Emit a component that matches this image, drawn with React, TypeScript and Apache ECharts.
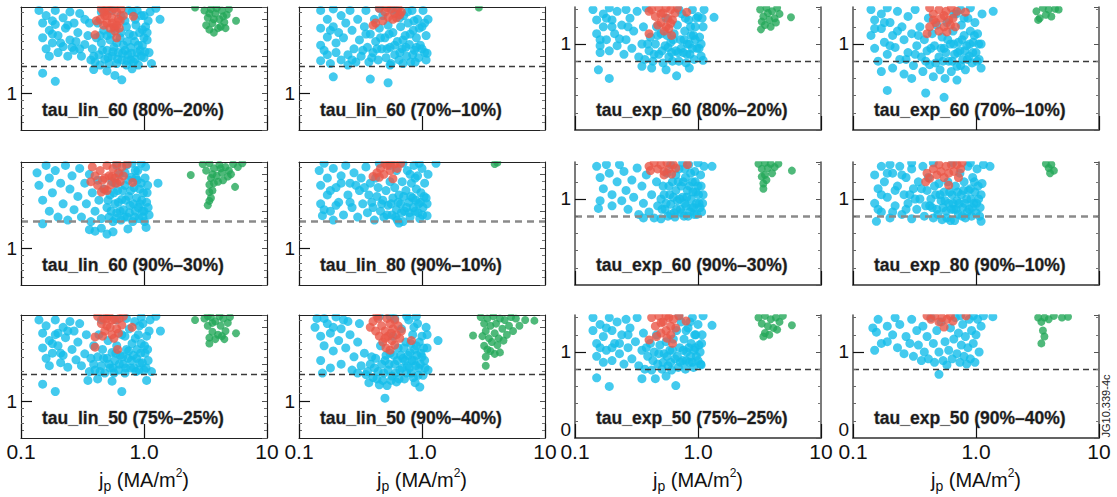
import React, { useEffect, useRef } from "react";
import * as echarts from "echarts";

// ---------- data (x = j_p in MA/m^2, y = normalised tau) ----------
const b1 = [[0.14,2.12],[0.15,1.95],[0.15,1.75],[0.16,1.6],[0.16,2.05],[0.17,1.85],[0.17,1.5],[0.18,1.68],[0.19,2.12],[0.19,1.93],[0.2,1.78],[0.2,1.55],[0.22,2.02],[0.22,1.63],[0.23,1.88],[0.24,1.5],[0.25,2.1],[0.25,1.72],[0.27,1.95],[0.27,1.58],[0.29,1.82],[0.3,2.08],[0.31,1.5],[0.33,1.66],[0.36,1.95],[0.37,1.45],[0.38,1.6],[0.4,1.42],[0.41,1.75],[0.43,1.52],[0.44,1.38],[0.45,1.68],[0.47,1.85],[0.48,1.46],[0.5,1.58],[0.52,1.4],[0.53,1.72],[0.55,1.5],[0.57,1.62],[0.58,1.88],[0.6,1.4],[0.62,1.55],[0.64,1.75],[0.66,1.45],[0.68,1.65],[0.7,1.98],[0.72,1.38],[0.74,1.52],[0.76,1.8],[0.78,1.62],[0.8,2.1],[0.82,1.42],[0.84,1.7],[0.86,1.92],[0.88,1.55],[0.9,1.38],[0.92,1.82],[0.95,2.05],[0.97,1.65],[1.0,1.48],[1.03,1.9],[1.06,1.72],[1.1,1.55],[1.12,2.1],[0.75,2.12],[0.65,2.05],[0.55,2.12],[0.45,2.1],[1.15,1.4],[0.42,1.95],[0.5,1.78],[0.6,1.68],[0.7,1.58],[0.78,1.45],[0.9,1.65],[1.0,1.75],[0.85,2.0],[0.95,1.5],[1.08,1.98],[0.35,1.78],[0.33,2.0],[0.15,1.27],[0.19,1.16],[0.39,1.32],[0.5,1.3],[0.58,1.24],[0.66,1.18],[0.8,1.33],[1.35,2.0],[1.25,2.15],[0.39,1.5],[0.46,1.58],[0.51,1.48],[0.56,1.56],[0.61,1.46],[0.67,1.54],[0.73,1.44],[0.79,1.54],[0.85,1.46],[0.93,1.58],[1.02,1.56],[0.44,1.78],[0.54,1.8],[0.65,1.82],[0.73,1.7],[0.82,1.78],[0.97,1.86],[1.06,1.82],[0.88,2.12],[1.0,2.05],[0.72,1.9],[0.18,1.8],[0.21,1.68],[0.24,1.92],[0.26,1.62],[0.18,1.98],[0.3,1.6],[0.28,1.7]];
const r1 = [[0.45,2.15],[0.48,2.05],[0.5,1.95],[0.52,2.12],[0.55,2.02],[0.57,1.9],[0.6,2.1],[0.62,2.0],[0.65,2.14],[0.58,1.84],[0.53,1.88],[0.47,1.92],[0.44,2.0],[0.68,2.05],[0.63,1.88],[0.4,1.79],[0.6,1.75],[0.82,2.04],[0.5,2.16],[0.41,1.98],[0.5,2.05],[0.55,1.95],[0.6,1.92],[0.64,1.98],[0.57,2.15],[0.47,2.1]];
const g1 = [[3.1,2.12],[3.3,2.02],[3.5,2.14],[3.6,1.95],[3.8,2.08],[4.0,1.88],[4.1,2.0],[4.3,2.12],[4.5,1.96],[4.7,2.06],[4.9,2.14],[3.4,1.86],[3.7,1.82],[4.2,1.9],[5.6,1.98],[2.6,2.16],[3.2,1.92],[4.6,1.88],[3.4,2.08],[3.9,2.15],[4.4,2.04],[3.7,2.0]];

const b2 = [[0.15,2.12],[0.15,1.88],[0.15,1.65],[0.15,1.44],[0.17,2.0],[0.17,1.76],[0.17,1.52],[0.18,1.4],[0.19,2.14],[0.19,1.9],[0.2,1.55],[0.21,1.82],[0.22,2.05],[0.22,1.45],[0.24,1.95],[0.25,1.52],[0.26,2.12],[0.27,1.85],[0.28,1.6],[0.29,1.42],[0.3,2.0],[0.31,1.72],[0.32,1.5],[0.34,1.9],[0.35,2.12],[0.36,1.62],[0.37,1.42],[0.38,1.8],[0.4,1.55],[0.41,2.0],[0.42,1.7],[0.44,1.45],[0.45,1.88],[0.47,1.6],[0.48,2.05],[0.5,1.75],[0.51,1.48],[0.53,1.92],[0.55,1.62],[0.56,1.4],[0.58,1.82],[0.6,1.52],[0.62,2.12],[0.63,1.7],[0.65,1.45],[0.67,1.9],[0.69,1.6],[0.71,2.05],[0.73,1.78],[0.75,1.5],[0.77,1.95],[0.79,1.66],[0.81,1.42],[0.83,2.12],[0.85,1.85],[0.87,1.58],[0.9,1.75],[0.92,2.0],[0.94,1.48],[0.97,1.65],[1.0,1.9],[1.02,2.12],[1.05,1.55],[1.08,1.78],[1.12,2.0],[1.1,1.54],[0.88,1.42],[0.7,1.4],[0.58,2.12],[0.45,2.15],[0.35,1.8],[0.19,1.22],[0.38,1.19],[0.53,1.14],[0.55,1.38],[0.25,1.38],[0.16,1.58],[0.18,1.85],[0.2,1.68],[0.23,1.75],[0.27,1.45],[0.33,1.58],[0.39,1.48],[0.43,1.6],[0.46,1.75],[0.52,1.6],[0.54,1.8],[0.6,1.65],[0.66,1.55],[0.7,1.72],[0.74,1.62],[0.8,1.8],[0.84,1.52],[0.9,1.62],[0.95,1.88],[1.0,1.6],[1.05,1.95],[1.08,1.45],[0.86,1.98],[0.76,2.1],[0.66,2.02]];
const r2 = [[0.45,2.15],[0.5,2.1],[0.53,2.03],[0.56,2.14],[0.6,2.08],[0.64,2.15],[0.68,2.1],[0.48,1.98],[0.42,1.95],[0.4,1.92],[0.58,2.0],[0.62,2.02],[0.52,2.16],[0.66,2.06]];
const g2 = [[2.9,2.16]];

const b3 = [[0.14,1.4],[0.15,1.28],[0.15,1.12],[0.16,0.98],[0.16,0.9],[0.17,1.35],[0.17,1.2],[0.18,1.05],[0.19,1.42],[0.19,0.92],[0.2,1.28],[0.21,1.12],[0.22,1.38],[0.22,0.98],[0.24,1.22],[0.25,0.88],[0.26,1.4],[0.26,1.05],[0.28,1.3],[0.29,0.95],[0.3,1.15],[0.32,1.38],[0.33,0.85],[0.35,1.0],[0.36,1.2],[0.37,0.82],[0.38,1.42],[0.4,0.92],[0.41,1.08],[0.43,0.8],[0.45,1.0],[0.46,1.2],[0.48,0.88],[0.5,1.12],[0.52,0.78],[0.54,0.98],[0.56,1.1],[0.58,0.85],[0.6,1.02],[0.62,0.8],[0.64,1.12],[0.66,0.92],[0.68,1.22],[0.7,0.8],[0.72,1.05],[0.74,1.35],[0.76,0.9],[0.78,1.15],[0.8,0.78],[0.82,1.0],[0.84,1.28],[0.86,0.88],[0.88,1.1],[0.9,1.4],[0.93,0.82],[0.95,1.2],[0.98,0.95],[1.0,1.32],[1.03,1.08],[1.06,0.86],[1.1,1.2],[1.12,1.4],[0.7,1.4],[0.55,1.3],[0.95,1.05],[0.155,0.7],[0.19,0.6],[0.67,0.63],[0.35,0.74],[0.42,0.72],[0.55,0.7],[1.1,0.81],[1.35,1.31],[0.85,0.72],[0.16,1.05],[0.18,1.3],[0.2,1.2],[0.23,1.06],[0.27,1.2],[0.39,1.0],[0.44,0.88],[0.47,1.1],[0.51,0.92],[0.57,0.96],[0.61,0.9],[0.63,1.05],[0.69,0.9],[0.73,0.95],[0.77,1.05],[0.81,0.88],[0.85,1.0],[0.9,0.95],[0.92,1.1],[0.97,1.3],[1.02,0.95],[1.06,1.0],[0.79,1.3],[0.87,1.2],[1.08,1.3]];
const r3 = [[0.42,1.4],[0.45,1.32],[0.48,1.42],[0.5,1.25],[0.52,1.36],[0.55,1.2],[0.57,1.3],[0.6,1.4],[0.62,1.28],[0.65,1.36],[0.47,1.22],[0.58,1.18],[0.4,1.38],[0.4,1.12],[0.61,1.1],[0.81,1.37],[0.68,1.42],[0.53,1.15],[0.5,1.35],[0.55,1.42],[0.6,1.24]];
const g3 = [[3.2,1.4],[3.4,1.32],[3.6,1.42],[3.8,1.28],[4.0,1.38],[4.2,1.3],[4.4,1.42],[4.6,1.35],[3.5,1.22],[3.9,1.2],[3.25,1.17],[5.7,1.31],[4.3,1.25],[3.3,1.26],[3.7,1.36]];

const b4 = [[0.14,1.4],[0.14,1.1],[0.15,1.28],[0.15,0.95],[0.16,0.8],[0.17,1.35],[0.17,1.18],[0.17,0.68],[0.18,1.02],[0.19,1.42],[0.19,0.88],[0.2,1.25],[0.21,1.1],[0.21,0.72],[0.22,0.96],[0.23,1.38],[0.24,0.82],[0.25,1.2],[0.26,1.05],[0.26,0.65],[0.28,1.32],[0.28,0.9],[0.3,1.12],[0.31,0.75],[0.32,1.4],[0.33,0.98],[0.35,1.2],[0.36,0.85],[0.37,0.68],[0.38,1.05],[0.4,0.92],[0.41,1.3],[0.42,0.76],[0.44,1.12],[0.45,0.62],[0.46,0.98],[0.48,1.22],[0.5,0.85],[0.51,0.7],[0.53,1.08],[0.55,0.95],[0.56,0.6],[0.58,1.25],[0.6,0.8],[0.62,1.0],[0.63,0.68],[0.65,1.15],[0.67,0.88],[0.69,1.35],[0.7,0.74],[0.72,1.02],[0.74,0.92],[0.76,1.22],[0.78,0.82],[0.8,1.1],[0.82,0.7],[0.84,0.98],[0.86,1.3],[0.88,0.86],[0.9,1.15],[0.93,0.78],[0.95,1.02],[0.98,1.25],[1.0,0.9],[1.03,1.12],[1.06,0.82],[1.1,1.0],[1.12,1.35],[0.75,1.4],[0.9,1.42],[1.1,0.72],[0.19,0.46],[0.39,0.43],[0.55,0.38],[1.38,1.38],[0.3,0.6],[0.7,0.58],[0.15,1.18],[0.18,1.25],[0.2,0.98],[0.23,1.15],[0.27,0.82],[0.32,0.88],[0.34,1.1],[0.39,0.8],[0.43,0.95],[0.47,0.78],[0.52,0.95],[0.54,0.8],[0.57,0.9],[0.59,1.05],[0.64,0.8],[0.66,1.0],[0.71,0.9],[0.75,0.75],[0.77,1.05],[0.81,0.92],[0.85,0.82],[0.89,1.0],[0.94,0.9],[0.97,1.1],[1.02,0.8],[1.05,1.0],[0.66,1.35],[0.8,1.3]];
const r4 = [[0.42,1.42],[0.45,1.35],[0.47,1.25],[0.5,1.4],[0.52,1.3],[0.55,1.2],[0.57,1.38],[0.6,1.28],[0.63,1.42],[0.65,1.3],[0.68,1.2],[0.5,1.15],[0.45,1.28],[0.42,1.2],[0.4,1.12],[0.58,1.14],[0.82,1.37],[0.7,1.38],[0.55,1.33],[0.62,1.22]];
const g4 = [[3.1,1.38],[3.3,1.3],[3.5,1.42],[3.7,1.34],[3.9,1.4],[4.1,1.32],[4.4,1.41],[4.7,1.4],[3.2,1.28]];

const b5 = [[0.135,2.02],[0.14,1.85],[0.15,1.65],[0.15,1.33],[0.16,2.12],[0.17,1.95],[0.17,1.5],[0.18,1.75],[0.19,2.05],[0.2,1.42],[0.21,1.88],[0.22,1.6],[0.23,2.12],[0.24,1.38],[0.25,1.8],[0.26,1.98],[0.27,1.52],[0.29,1.7],[0.3,2.08],[0.31,1.42],[0.33,1.88],[0.34,1.6],[0.36,2.0],[0.37,1.36],[0.38,1.75],[0.4,1.5],[0.42,1.92],[0.43,1.65],[0.45,1.4],[0.47,1.8],[0.5,1.55],[0.52,1.42],[0.53,1.72],[0.55,1.9],[0.56,1.36],[0.58,1.6],[0.6,1.48],[0.61,1.78],[0.63,2.0],[0.65,1.38],[0.66,1.66],[0.68,1.52],[0.7,1.85],[0.72,2.12],[0.73,1.42],[0.75,1.7],[0.77,1.58],[0.79,1.96],[0.81,1.36],[0.83,1.82],[0.85,1.5],[0.87,1.68],[0.89,2.05],[0.91,1.4],[0.93,1.6],[0.95,1.88],[0.97,1.5],[0.99,1.75],[1.01,1.36],[1.03,2.1],[1.05,1.62],[1.07,1.85],[1.1,1.45],[0.6,2.12],[0.8,2.15],[0.95,2.15],[0.88,1.92],[0.75,1.92],[0.58,1.88],[0.36,1.25],[0.4,1.23],[0.5,1.19],[0.56,1.22],[0.74,1.26],[1.04,1.28],[1.3,1.88],[0.45,1.27],[0.51,1.65],[0.54,1.5],[0.57,1.75],[0.59,1.4],[0.62,1.62],[0.64,1.5],[0.67,1.78],[0.69,1.42],[0.71,1.65],[0.76,1.48],[0.78,1.78],[0.82,1.6],[0.84,1.42],[0.86,1.95],[0.9,1.55],[0.92,1.8],[0.96,1.65],[1.0,1.5],[1.02,1.95],[1.06,1.75],[0.98,1.42],[0.85,2.05],[0.7,2.02],[1.08,1.55]];
const r5 = [[0.38,2.1],[0.4,1.98],[0.42,1.85],[0.44,2.05],[0.46,1.92],[0.48,1.8],[0.5,2.12],[0.52,1.98],[0.54,1.86],[0.56,2.08],[0.58,1.95],[0.6,2.15],[0.62,2.02],[0.64,1.9],[0.66,2.1],[0.45,1.76],[0.5,1.78],[0.37,1.9],[0.81,1.89],[0.73,2.14],[0.68,1.98],[0.48,1.95],[0.55,1.97],[0.6,1.88]];
const g5 = [[3.0,2.14],[3.2,2.05],[3.4,2.15],[3.5,1.95],[3.7,2.08],[3.9,1.98],[4.1,2.13],[4.3,2.02],[4.6,2.1],[4.9,2.05],[5.3,2.14],[5.8,2.1],[3.4,1.86],[3.7,1.88],[4.0,1.9],[4.4,1.92],[3.4,1.76],[3.6,1.78],[3.5,1.68],[3.3,1.58],[3.4,1.64],[2.4,1.99],[5.5,1.83],[6.3,2.15],[4.8,1.97],[5.1,2.0],[3.6,2.0],[4.2,2.08]];

const b6 = [[0.146,2.05],[0.15,1.85],[0.15,1.6],[0.155,1.44],[0.16,2.15],[0.17,1.95],[0.17,1.72],[0.18,1.5],[0.19,2.08],[0.19,1.38],[0.2,1.82],[0.21,1.62],[0.22,1.98],[0.23,1.45],[0.24,2.12],[0.25,1.72],[0.26,1.88],[0.27,1.55],[0.28,2.02],[0.3,1.42],[0.31,1.78],[0.32,1.95],[0.33,1.6],[0.35,2.1],[0.36,1.48],[0.37,1.72],[0.38,1.88],[0.4,1.55],[0.41,1.38],[0.43,1.7],[0.44,1.82],[0.46,1.5],[0.48,1.65],[0.49,1.42],[0.51,1.78],[0.53,1.58],[0.55,1.9],[0.57,1.45],[0.58,1.68],[0.6,1.82],[0.62,1.52],[0.63,1.38],[0.65,1.72],[0.67,1.6],[0.69,1.9],[0.7,1.36],[0.72,1.5],[0.74,1.78],[0.76,2.05],[0.78,1.62],[0.8,1.42],[0.82,1.88],[0.84,1.68],[0.86,2.12],[0.88,1.5],[0.9,1.8],[0.92,1.98],[0.94,1.6],[0.96,1.4],[0.98,1.75],[1.0,2.08],[1.02,1.55],[1.05,1.88],[1.08,1.68],[1.1,1.44],[1.12,2.0],[0.7,2.15],[0.95,2.15],[0.55,2.12],[0.45,2.15],[0.62,2.05],[1.3,2.15],[0.65,1.34],[0.16,1.52],[0.18,1.78],[0.2,1.58],[0.22,1.88],[0.26,1.62],[0.29,1.85],[0.34,1.82],[0.39,1.62],[0.42,1.95],[0.47,1.6],[0.52,1.45],[0.56,1.6],[0.61,1.42],[0.64,1.62],[0.68,1.48],[0.71,1.7],[0.75,1.55],[0.79,1.48],[0.81,1.7],[0.85,1.55],[0.89,1.65],[0.93,1.48],[0.97,1.62],[1.01,1.45],[1.04,1.7],[1.1,1.6],[0.88,1.95],[0.8,2.0]];
const r6 = [[0.4,1.97],[0.43,2.02],[0.46,2.08],[0.49,2.0],[0.52,2.12],[0.55,2.05],[0.58,1.94],[0.6,2.14],[0.63,2.08],[0.67,2.15],[0.5,2.15],[0.56,2.16],[0.45,1.96]];
const g6 = [[3.9,2.14],[4.1,2.16]];

const b7 = [[0.15,1.38],[0.155,0.89],[0.16,1.25],[0.16,0.98],[0.17,1.12],[0.18,1.4],[0.19,1.3],[0.2,1.05],[0.2,0.92],[0.22,1.2],[0.23,1.4],[0.24,0.98],[0.25,1.32],[0.26,1.1],[0.27,0.88],[0.29,1.22],[0.3,1.02],[0.32,1.36],[0.33,0.82],[0.35,1.15],[0.36,0.95],[0.38,1.28],[0.4,0.85],[0.42,1.05],[0.44,0.78],[0.46,1.2],[0.47,0.92],[0.5,0.77],[0.5,1.0],[0.52,1.15],[0.54,0.88],[0.56,1.3],[0.57,0.8],[0.59,1.05],[0.6,0.94],[0.62,1.2],[0.64,0.84],[0.65,0.79],[0.66,1.1],[0.68,0.98],[0.7,1.35],[0.72,0.88],[0.73,1.15],[0.75,1.02],[0.77,0.8],[0.79,1.25],[0.8,0.92],[0.82,1.1],[0.84,1.4],[0.86,0.85],[0.88,1.0],[0.9,1.2],[0.92,0.9],[0.94,1.32],[0.96,1.08],[0.98,0.82],[1.0,1.15],[1.02,0.95],[1.05,1.28],[1.07,0.85],[1.1,1.05],[1.12,1.38],[0.6,1.4],[0.75,1.42],[1.0,1.42],[1.3,1.38],[0.36,0.78],[0.51,0.88],[0.53,1.05],[0.55,0.95],[0.58,1.15],[0.6,0.82],[0.63,1.02],[0.67,0.88],[0.69,1.2],[0.71,1.0],[0.74,0.84],[0.76,1.2],[0.78,0.95],[0.81,1.02],[0.83,0.8],[0.85,1.15],[0.87,1.3],[0.89,0.9],[0.91,1.08],[0.93,0.82],[0.95,1.2],[0.97,0.95],[1.01,1.05],[1.04,0.9],[1.06,1.15],[1.09,0.95],[0.66,1.28],[0.78,1.35]];
const r7 = [[0.4,1.38],[0.41,1.33],[0.44,1.42],[0.47,1.35],[0.5,1.4],[0.53,1.32],[0.56,1.42],[0.58,1.35],[0.61,1.29],[0.63,1.4],[0.66,1.36],[0.82,1.4],[0.53,1.28]];
const g7 = [[3.1,1.41],[3.3,1.35],[3.5,1.42],[3.7,1.36],[3.9,1.41],[4.2,1.37],[4.5,1.41],[3.3,1.26],[3.5,1.28],[3.4,1.18],[3.4,1.12],[3.6,1.22],[5.8,1.33],[4.0,1.3]];

const b8 = [[0.15,1.28],[0.15,0.95],[0.155,0.74],[0.16,1.12],[0.17,1.38],[0.17,0.85],[0.18,1.2],[0.19,1.02],[0.2,1.4],[0.2,0.78],[0.21,1.3],[0.22,0.92],[0.23,1.15],[0.24,1.38],[0.25,0.82],[0.26,1.05],[0.27,1.25],[0.28,0.95],[0.3,0.77],[0.3,1.35],[0.31,1.12],[0.33,0.88],[0.34,1.2],[0.35,1.0],[0.37,1.38],[0.38,0.8],[0.4,1.1],[0.42,0.92],[0.43,1.0],[0.45,0.78],[0.47,1.05],[0.48,0.88],[0.5,1.18],[0.52,0.98],[0.53,0.76],[0.55,1.08],[0.57,0.86],[0.59,1.2],[0.6,0.95],[0.62,0.75],[0.64,1.05],[0.66,0.88],[0.67,0.75],[0.68,1.15],[0.7,0.98],[0.72,0.82],[0.74,1.3],[0.76,1.05],[0.78,0.9],[0.8,1.2],[0.82,0.78],[0.84,1.0],[0.86,1.38],[0.88,0.88],[0.9,1.12],[0.92,0.8],[0.94,1.25],[0.96,0.95],[0.98,1.08],[1.0,0.84],[1.02,1.35],[1.05,1.0],[1.08,0.9],[1.1,0.74],[1.12,1.18],[1.15,1.4],[0.3,1.42],[0.45,1.42],[0.9,1.42],[0.65,1.42],[1.3,1.38],[0.16,0.88],[0.17,1.05],[0.19,1.3],[0.21,0.85],[0.22,1.1],[0.25,1.28],[0.27,0.88],[0.29,1.05],[0.32,1.0],[0.36,1.12],[0.39,0.92],[0.41,1.25],[0.44,0.9],[0.46,1.15],[0.49,0.82],[0.51,1.05],[0.54,0.9],[0.56,0.98],[0.58,0.78],[0.61,1.08],[0.63,0.88],[0.65,0.95],[0.69,0.88],[0.71,1.08],[0.73,0.95],[0.77,0.8],[0.79,1.1],[0.81,0.95],[0.85,0.85],[0.87,1.1],[0.91,1.0],[0.93,0.9],[0.97,1.2],[1.01,0.95],[1.04,1.15],[1.07,0.8],[1.1,1.05]];
const r8 = [[0.39,1.2],[0.4,1.3],[0.42,1.24],[0.45,1.35],[0.48,1.28],[0.5,1.4],[0.52,1.32],[0.55,1.25],[0.57,1.38],[0.6,1.16],[0.6,1.3],[0.63,1.4],[0.66,1.32],[0.7,1.4],[0.72,1.25],[0.75,1.35],[0.77,1.42]];
const g8 = [[3.7,1.41],[3.9,1.36],[4.1,1.4],[4.3,1.33],[4.0,1.3]];

const b9 = [[0.14,2.1],[0.15,1.92],[0.15,1.72],[0.16,1.58],[0.16,2.02],[0.17,1.82],[0.17,1.48],[0.18,1.65],[0.19,2.1],[0.19,1.9],[0.2,1.75],[0.21,1.52],[0.22,2.0],[0.22,1.62],[0.23,1.86],[0.24,1.46],[0.25,2.08],[0.26,1.7],[0.27,1.95],[0.28,1.56],[0.29,1.8],[0.3,2.05],[0.31,1.48],[0.33,1.64],[0.34,1.9],[0.36,1.4],[0.37,1.58],[0.39,1.75],[0.4,1.42],[0.42,1.6],[0.43,1.9],[0.45,1.48],[0.46,1.7],[0.48,1.38],[0.5,1.58],[0.51,1.82],[0.53,1.45],[0.55,1.66],[0.57,1.38],[0.58,1.55],[0.6,1.75],[0.62,1.42],[0.64,1.62],[0.66,1.9],[0.68,1.5],[0.7,1.38],[0.72,1.7],[0.74,1.58],[0.76,1.98],[0.78,1.45],[0.8,1.78],[0.82,1.62],[0.84,2.08],[0.86,1.4],[0.88,1.7],[0.9,1.9],[0.92,1.52],[0.95,1.78],[0.98,2.05],[1.0,1.42],[1.02,1.65],[1.05,1.88],[1.08,1.55],[1.12,2.1],[1.15,1.4],[0.72,2.12],[0.6,2.1],[0.95,2.14],[0.45,2.1],[0.15,1.23],[0.19,1.13],[0.66,1.13],[0.35,1.28],[0.42,1.3],[0.55,1.27],[1.05,1.28],[1.36,1.95],[1.25,2.15],[0.39,1.5],[0.44,1.4],[0.47,1.58],[0.52,1.5],[0.56,1.45],[0.59,1.65],[0.63,1.5],[0.67,1.6],[0.71,1.45],[0.75,1.68],[0.79,1.55],[0.83,1.45],[0.87,1.58],[0.91,1.42],[0.94,1.65],[0.97,1.52],[1.01,1.75],[1.04,1.45],[1.07,1.7],[1.1,1.95],[0.85,1.85],[0.7,1.88],[0.92,2.02],[0.18,1.78],[0.21,1.65],[0.24,1.95],[0.2,1.92]];
const r9 = [[0.42,2.15],[0.45,2.05],[0.48,1.95],[0.5,2.12],[0.53,2.0],[0.55,1.9],[0.58,2.1],[0.6,1.98],[0.63,2.12],[0.66,2.03],[0.68,2.15],[0.46,1.88],[0.57,1.85],[0.4,1.87],[0.4,1.73],[0.61,1.7],[0.8,2.0],[0.52,2.16],[0.5,2.02],[0.55,2.1],[0.62,1.92],[0.47,2.12]];
const g9 = [[3.1,2.12],[3.3,2.02],[3.5,2.14],[3.6,1.94],[3.8,2.08],[4.0,1.9],[4.2,2.02],[4.4,2.12],[4.6,1.95],[4.8,2.06],[5.0,2.14],[3.4,1.86],[3.8,1.84],[4.3,1.88],[3.4,1.78],[5.6,1.92],[2.6,2.1],[4.5,1.84],[3.6,2.06],[4.1,2.15],[3.3,2.15]];

const b10 = [[0.135,2.0],[0.14,2.12],[0.15,1.88],[0.15,1.55],[0.155,1.38],[0.16,1.75],[0.17,2.05],[0.18,1.92],[0.18,1.45],[0.19,1.68],[0.2,2.14],[0.21,1.82],[0.22,1.98],[0.22,1.5],[0.24,1.72],[0.25,2.08],[0.26,1.9],[0.27,1.42],[0.28,1.6],[0.3,1.8],[0.31,2.05],[0.32,1.48],[0.34,1.65],[0.35,1.36],[0.37,1.25],[0.38,1.5],[0.4,1.32],[0.42,1.58],[0.44,1.4],[0.46,1.75],[0.48,1.28],[0.5,1.55],[0.52,1.21],[0.53,1.42],[0.55,1.65],[0.57,1.34],[0.58,1.88],[0.6,1.5],[0.62,1.26],[0.64,1.72],[0.66,1.42],[0.68,1.98],[0.7,1.58],[0.72,1.3],[0.74,1.8],[0.76,1.48],[0.78,2.1],[0.8,1.66],[0.82,1.38],[0.84,1.9],[0.86,1.55],[0.88,1.25],[0.9,1.75],[0.92,2.05],[0.94,1.45],[0.96,1.19],[0.98,1.65],[1.0,1.88],[1.02,1.35],[1.05,1.55],[1.08,2.0],[1.1,1.72],[1.12,1.42],[0.9,2.15],[0.6,2.12],[0.55,2.15],[0.45,2.15],[0.75,2.15],[0.5,1.04],[1.35,1.82],[0.3,1.38],[0.45,1.22],[0.36,1.4],[0.39,1.6],[0.41,1.45],[0.43,1.3],[0.47,1.5],[0.49,1.38],[0.51,1.62],[0.54,1.5],[0.56,1.28],[0.59,1.62],[0.61,1.38],[0.63,1.55],[0.65,1.3],[0.67,1.62],[0.69,1.45],[0.71,1.72],[0.73,1.55],[0.75,1.38],[0.77,1.62],[0.79,1.45],[0.81,1.78],[0.83,1.55],[0.85,1.32],[0.87,1.7],[0.89,1.48],[0.91,1.62],[0.93,1.35],[0.95,1.8],[0.97,1.5],[1.0,1.6],[1.03,1.72],[1.06,1.45],[1.1,1.9],[0.86,2.0],[0.16,2.12],[0.19,2.0],[0.23,2.1]];
const r10 = [[0.38,2.0],[0.4,2.08],[0.42,1.95],[0.44,2.12],[0.45,1.88],[0.47,2.02],[0.48,1.8],[0.5,1.95],[0.51,1.72],[0.53,1.88],[0.55,2.05],[0.55,1.69],[0.57,1.82],[0.58,1.98],[0.6,1.76],[0.62,1.9],[0.64,2.02],[0.66,1.85],[0.68,1.95],[0.52,2.12],[0.6,2.1],[0.82,1.82],[0.43,2.16],[0.5,1.85],[0.56,1.92]];
const g10 = [[3.0,2.14],[3.2,2.05],[3.3,1.95],[3.4,2.12],[3.5,1.85],[3.6,2.02],[3.8,2.15],[3.9,1.92],[4.0,2.05],[4.2,1.85],[4.3,2.12],[4.5,1.98],[4.7,2.1],[4.9,1.9],[5.1,2.02],[5.3,2.14],[5.5,1.95],[3.2,1.75],[3.4,1.7],[3.3,1.6],[3.3,1.48],[3.6,1.68],[4.3,1.66],[3.9,1.64],[2.6,1.89],[8.2,2.09],[6.9,2.1],[6.2,2.02],[5.8,2.12],[3.1,1.88],[4.6,1.82],[3.7,1.8],[4.1,1.76]];

const b11 = [[0.14,1.4],[0.14,1.25],[0.15,1.1],[0.15,0.95],[0.16,1.32],[0.17,1.18],[0.17,0.88],[0.18,1.02],[0.19,1.4],[0.2,1.25],[0.2,0.9],[0.21,1.1],[0.22,1.35],[0.23,0.98],[0.24,1.2],[0.25,0.86],[0.26,1.38],[0.27,1.05],[0.28,1.28],[0.29,0.92],[0.31,1.12],[0.32,1.4],[0.33,0.84],[0.35,1.02],[0.36,1.22],[0.37,0.8],[0.39,0.95],[0.41,1.1],[0.42,0.79],[0.44,1.0],[0.46,1.2],[0.47,0.86],[0.49,1.08],[0.51,0.8],[0.53,0.98],[0.55,1.12],[0.57,0.84],[0.59,1.02],[0.61,0.79],[0.63,1.15],[0.65,0.92],[0.67,1.25],[0.69,0.82],[0.71,1.05],[0.73,1.35],[0.75,0.9],[0.77,1.15],[0.79,0.8],[0.81,1.0],[0.83,1.28],[0.85,0.88],[0.88,1.1],[0.9,1.4],[0.92,0.82],[0.94,1.2],[0.97,0.95],[1.0,1.32],[1.02,1.08],[1.05,0.86],[1.08,1.2],[1.1,1.42],[0.95,1.05],[0.7,1.42],[0.15,0.7],[0.19,0.6],[0.66,0.61],[0.35,0.69],[0.45,0.69],[1.06,0.85],[1.3,1.31],[0.55,0.72],[0.16,1.05],[0.18,1.28],[0.2,1.05],[0.23,1.1],[0.27,1.2],[0.38,1.05],[0.43,0.9],[0.48,0.98],[0.52,0.88],[0.56,0.95],[0.6,0.88],[0.62,1.02],[0.68,0.95],[0.72,0.88],[0.76,1.02],[0.8,0.9],[0.84,1.05],[0.87,0.95],[0.9,0.88],[0.93,1.02],[0.96,1.2],[1.0,0.9],[1.04,1.0],[1.07,1.1],[0.8,1.25],[0.86,1.35]];
const r11 = [[0.42,1.4],[0.45,1.3],[0.48,1.42],[0.5,1.22],[0.52,1.35],[0.55,1.25],[0.58,1.4],[0.6,1.3],[0.63,1.38],[0.66,1.28],[0.46,1.18],[0.56,1.16],[0.4,1.14],[0.62,1.1],[0.8,1.36],[0.7,1.42],[0.5,1.34],[0.55,1.42],[0.6,1.2]];
const g11 = [[3.1,1.4],[3.3,1.33],[3.5,1.42],[3.7,1.3],[3.9,1.38],[4.1,1.28],[4.3,1.4],[4.6,1.35],[4.9,1.42],[3.5,1.22],[3.8,1.2],[3.4,1.18],[5.8,1.31],[4.4,1.26]];

const b12 = [[0.145,1.28],[0.15,1.02],[0.155,1.23],[0.16,1.38],[0.17,1.1],[0.19,1.12],[0.19,1.3],[0.21,1.2],[0.22,1.4],[0.23,1.05],[0.24,1.32],[0.26,0.98],[0.27,1.18],[0.29,1.1],[0.3,1.38],[0.31,0.95],[0.33,1.25],[0.34,1.08],[0.36,0.9],[0.37,1.3],[0.38,1.0],[0.4,1.18],[0.41,0.92],[0.43,1.4],[0.45,1.1],[0.46,0.88],[0.48,1.25],[0.5,0.74],[0.5,1.0],[0.52,1.35],[0.54,0.9],[0.56,1.12],[0.58,0.85],[0.6,1.02],[0.62,1.28],[0.64,0.92],[0.66,1.15],[0.68,1.4],[0.7,0.98],[0.72,1.22],[0.74,0.88],[0.76,1.08],[0.78,1.32],[0.8,0.95],[0.82,1.18],[0.84,0.86],[0.86,1.05],[0.88,1.38],[0.9,0.92],[0.92,1.25],[0.95,1.1],[0.98,0.88],[1.0,1.2],[1.03,1.38],[1.06,1.0],[1.1,1.3],[1.15,1.42],[1.37,1.41],[0.75,1.42],[0.95,1.42]];
const r12 = [[0.4,1.42],[0.43,1.38],[0.46,1.42],[0.5,1.35],[0.53,1.4],[0.55,1.29],[0.58,1.38],[0.62,1.42],[0.65,1.36],[0.83,1.42]];
const g12 = [[3.4,1.35],[3.5,1.25],[3.4,1.1],[3.6,1.4],[3.9,1.38],[4.3,1.42],[5.0,1.4],[5.6,1.41],[3.2,1.4],[3.6,1.18]];

const panelLabels = [
  "tau_lin_60 (80%\u201320%)", "tau_lin_60 (70%\u201310%)", "tau_exp_60 (80%\u201320%)", "tau_exp_60 (70%\u201310%)",
  "tau_lin_60 (90%\u201330%)", "tau_lin_80 (90%\u201310%)", "tau_exp_60 (90%\u201330%)", "tau_exp_80 (90%\u201310%)",
  "tau_lin_50 (75%\u201325%)", "tau_lin_50 (90%\u201340%)", "tau_exp_50 (75%\u201325%)", "tau_exp_50 (90%\u201340%)",
];
const blueSets = [b1, b2, b3, b4, b5, b6, b7, b8, b9, b10, b11, b12];
const redSets = [r1, r2, r3, r4, r5, r6, r7, r8, r9, r10, r11, r12];
const greenSets = [g1, g2, g3, g4, g5, g6, g7, g8, g9, g10, g11, g12];

const xTickLabels = ["0.1", "1.0", "10"];
const LIN_Y = { min: 0.5, max: 2.1667, interval: 0.5, dash: 1.37 };
const EXP_Y = { min: 0, max: 1.43, interval: 1, dash: 0.8 };

// ---------- layout / style ----------
const COL_LEFT = [21, 299, 575, 853];
const ROW_TOP = [7, 162, 315];
const PANEL_W = 246;
const PANEL_H = 123;
const BLUE = "#14BDEA";
const RED = "#EA5749";
const GREEN = "#23A859";
const FONT = '"Liberation Sans", Arial, Helvetica, sans-serif';

function buildOption() {
  const grid: any[] = [];
  const xAxis: any[] = [];
  const yAxis: any[] = [];
  const series: any[] = [];
  const graphic: any[] = [];

  for (let i = 0; i < 12; i++) {
    const r = Math.floor(i / 4);
    const c = i % 4;
    const isExp = c >= 2;
    const Y = isExp ? EXP_Y : LIN_Y;
    const bottomRow = r === 2;
    const frameColor = isExp ? "#5a5a5a" : "#222";
    const frameWidth = isExp ? 1.6 : 1.1;

    grid.push({ left: COL_LEFT[c], top: ROW_TOP[r], width: PANEL_W, height: PANEL_H, containLabel: false });

    const xIdx = xAxis.length;
    xAxis.push({
      gridIndex: i, type: "log", logBase: 10, min: 0.1, max: 10, position: "bottom", z: 6,
      axisLine: { show: true, lineStyle: { color: frameColor, width: frameWidth } },
      axisTick: { show: true, inside: true, length: 14, lineStyle: { color: "#111", width: 1.2 } },
      splitLine: { show: false },
      axisLabel: {
        show: bottomRow, fontSize: 21, color: "#111", margin: 3, fontFamily: FONT,
        formatter: (v: number) => xTickLabels[Math.round(Math.log10(v)) + 1] ?? "",
      },
      name: bottomRow ? "{n|j}{s|p}{n| (MA/m}{u|2}{n|)}" : "",
      nameLocation: "middle",
      nameGap: 29,
      nameTextStyle: {
        rich: {
          n: { fontSize: 20, color: "#111", fontFamily: FONT, lineHeight: 26 },
          s: { fontSize: 14, color: "#111", fontFamily: FONT, lineHeight: 14, verticalAlign: "bottom" },
          u: { fontSize: 12, color: "#111", fontFamily: FONT, lineHeight: 12, verticalAlign: "top" },
        },
      },
    });
    xAxis.push({
      gridIndex: i, type: "log", logBase: 10, min: 0.1, max: 10, position: "top", z: 6,
      axisLine: { show: true, lineStyle: { color: frameColor, width: frameWidth } },
      axisTick: { show: false },
      axisLabel: { show: false },
      splitLine: { show: false },
    });

    const yIdx = yAxis.length;
    yAxis.push({
      gridIndex: i, type: "value", min: Y.min, max: Y.max, interval: Y.interval, position: "left", z: 6,
      axisLine: { show: true, lineStyle: { color: frameColor, width: frameWidth } },
      axisTick: { show: true, inside: true, length: 11, customValues: [1], lineStyle: { color: "#111", width: 1.2 } },
      minorTick: { show: true, splitNumber: 5, length: 3, lineStyle: { color: "#666", width: 1 } },
      splitLine: { show: false },
      minorSplitLine: { show: false },
      axisLabel: { show: true, customValues: [1], fontSize: 19, color: "#111", margin: 4, fontFamily: FONT },
    });
    yAxis.push({
      gridIndex: i, type: "value", min: Y.min, max: Y.max, interval: Y.interval, position: "right", z: 6,
      axisLine: { show: true, lineStyle: { color: frameColor, width: frameWidth } },
      axisTick: { show: true, inside: true, length: 5, lineStyle: { color: "#555", width: 1 } },
      minorTick: { show: true, splitNumber: 5, length: 3, lineStyle: { color: "#777", width: 1 } },
      splitLine: { show: false },
      axisLabel: { show: false },
    });
    if (isExp && bottomRow) {
      // the "0" of the exp panels' y axis sits on the frame's bottom edge, above the x labels
      yAxis.push({
        gridIndex: i, type: "value", min: Y.min, max: Y.max, interval: Y.interval, position: "left", offset: 0, z: 6,
        axisLine: { show: false }, axisTick: { show: false }, splitLine: { show: false },
        axisLabel: {
          show: true, customValues: [0], fontSize: 19, color: "#111", margin: 4, fontFamily: FONT,
          verticalAlign: "bottom", lineHeight: 17,
        },
      });
    }

    const dashStyle = r === 1
      ? { color: "#8a8a8a", width: 2.6, type: [7, 5] }
      : { color: "#3a3a3a", width: 1.4, type: [6, 4] };

    series.push({
      type: "scatter", xAxisIndex: xIdx, yAxisIndex: yIdx, data: blueSets[i],
      symbolSize: 9, itemStyle: { color: BLUE }, silent: true,
      markLine: {
        silent: true, symbol: ["none", "none"], label: { show: false },
        lineStyle: dashStyle, data: [{ yAxis: Y.dash }],
      },
    });
    series.push({
      type: "scatter", xAxisIndex: xIdx, yAxisIndex: yIdx, data: redSets[i],
      symbolSize: 9, itemStyle: { color: RED }, silent: true,
    });
    series.push({
      type: "scatter", xAxisIndex: xIdx, yAxisIndex: yIdx, data: greenSets[i],
      symbolSize: 8, itemStyle: { color: GREEN }, silent: true,
    });

    // white strip above each frame so the clouds are cut at the frame's top edge
    graphic.push({
      type: "rect", z: 5, silent: true,
      shape: { x: COL_LEFT[c] - 6, y: ROW_TOP[r] - 10, width: PANEL_W + 12, height: 9.3 },
      style: { fill: "#ffffff" },
    });

    graphic.push({
      type: "text", x: COL_LEFT[c] + 21, y: ROW_TOP[r] + PANEL_H - 20, z: 100,
      style: {
        text: panelLabels[i], fill: "#1c1c1c", font: `bold 17.5px ${FONT}`,
        align: "left", verticalAlign: "middle",
        stroke: "rgba(70,70,70,0.35)", lineWidth: 1,
      },
    });
  }

  graphic.push({
    type: "text", x: 1106, y: 406, rotation: Math.PI / 2, z: 100,
    style: { text: "JG10.339-4c", fill: "#222", font: `11px ${FONT}`, align: "center", verticalAlign: "middle" },
  });

  return { animation: false, backgroundColor: "#fff", textStyle: { fontFamily: FONT }, grid, xAxis, yAxis, series, graphic };
}

export default function App() {
  const ref = useRef<HTMLDivElement>(null);
  useEffect(() => {
    if (!ref.current) return;
    const chart = echarts.init(ref.current, undefined, { renderer: "svg" });
    chart.setOption(buildOption() as any);
    return () => chart.dispose();
  }, []);
  return <div ref={ref} style={{ position: "absolute", left: 0, top: 0, width: 1117, height: 497 }} />;
}
